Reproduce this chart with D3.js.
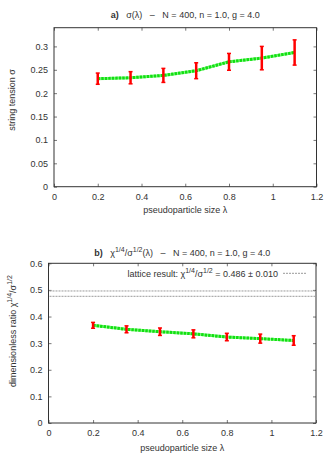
<!DOCTYPE html>
<html>
<head>
<meta charset="utf-8">
<script src="https://cdn.jsdelivr.net/npm/d3@7"></script>
<style>
    body { margin: 0; background: #fff; }
    svg { display: block; font-family: "Liberation Sans", Arial, sans-serif; }
    .axis text { fill: #333; font-size: 9px; }
    .lbl { fill: #333; font-size: 9px; }
</style>
</head>
<body>
<div id="chart"></div>
<script>
const lambdas = [0.2, 0.35, 0.5, 0.65, 0.8, 0.95, 1.1];
const sigma = [0.231, 0.233, 0.238, 0.248, 0.267, 0.275, 0.287];
const sigmaErr = [0.012, 0.013, 0.015, 0.017, 0.018, 0.025, 0.027];
const ratio = [0.367, 0.352, 0.343, 0.335, 0.323, 0.317, 0.310];
const ratioErr = [0.011, 0.013, 0.014, 0.015, 0.014, 0.017, 0.018];
const latticeValue = 0.486;
const latticeErr = 0.010;
const xTicks = [0, 0.2, 0.4, 0.6, 0.8, 1, 1.2];
const sigmaTicks = [0, 0.05, 0.1, 0.15, 0.2, 0.25, 0.3];
const ratioTicks = [0, 0.1, 0.2, 0.3, 0.4, 0.5, 0.6];

const svg = d3.select('#chart').append('svg')
    .attr('width', 335)
    .attr('height', 460);

// builds one framed panel, returns the scales and group
function panel(box, yMax, yTicks) {
    const x = d3.scaleLinear().domain([0, 1.2]).range([box.left, box.right]);
    const y = d3.scaleLinear().domain([0, yMax]).range([box.bottom, box.top]);
    const g = svg.append('g');
    const tick = 3;

    // gnuplot style: ticks inside on all four sides
    g.append('g').attr('class', 'axis')
        .attr('transform', `translate(0,${box.bottom})`)
        .call(d3.axisBottom(x).tickValues(xTicks).tickFormat(d3.format('~g')).tickSize(-tick).tickPadding(7))
        .call(a => a.select('.domain').remove());
    g.append('g').attr('class', 'axis')
        .attr('transform', `translate(0,${box.top})`)
        .call(d3.axisTop(x).tickValues(xTicks).tickSize(-tick).tickFormat(''))
        .call(a => a.select('.domain').remove());
    g.append('g').attr('class', 'axis')
        .attr('transform', `translate(${box.left},0)`)
        .call(d3.axisLeft(y).tickValues(yTicks).tickFormat(d3.format('~g')).tickSize(-tick).tickPadding(6))
        .call(a => a.select('.domain').remove());
    g.append('g').attr('class', 'axis')
        .attr('transform', `translate(${box.right},0)`)
        .call(d3.axisRight(y).tickValues(yTicks).tickSize(-tick).tickFormat(''))
        .call(a => a.select('.domain').remove());
    g.selectAll('.tick line').attr('stroke', '#777');

    g.append('rect')
        .attr('x', box.left).attr('y', box.top)
        .attr('width', box.right - box.left)
        .attr('height', box.bottom - box.top)
        .attr('fill', 'none')
        .attr('stroke', '#333')
        .attr('stroke-width', 1);

    return {x, y, g};
}

function drawSeries(p, values, errs) {
    const pts = lambdas.map((l, i) => ({l, v: values[i], e: errs[i]}));
    const line = d3.line().x(d => p.x(d.l)).y(d => p.y(d.v));
    p.g.append('path').datum(pts)
        .attr('d', line)
        .attr('fill', 'none')
        .attr('stroke', '#8ff78f')
        .attr('stroke-width', 3);
    p.g.append('path').datum(pts)
        .attr('d', line)
        .attr('fill', 'none')
        .attr('stroke', '#11e011')
        .attr('stroke-width', 3)
        .attr('stroke-dasharray', '2.5,1');

    const bars = p.g.selectAll('.err').data(pts).join('g').attr('class', 'err');
    bars.append('line')
        .attr('x1', d => p.x(d.l)).attr('x2', d => p.x(d.l))
        .attr('y1', d => p.y(d.v - d.e)).attr('y2', d => p.y(d.v + d.e))
        .attr('stroke', '#f00').attr('stroke-width', 2.5);
    [-1, 1].forEach(s => {
        bars.append('line')
            .attr('x1', d => p.x(d.l) - 2).attr('x2', d => p.x(d.l) + 2)
            .attr('y1', d => p.y(d.v + s * d.e)).attr('y2', d => p.y(d.v + s * d.e))
            .attr('stroke', '#f00').attr('stroke-width', 1.5);
    });
}

// superscript helper
function rich(sel, parts) {
    parts.forEach(([t, sup]) => {
        sel.append('tspan')
            .attr('baseline-shift', sup ? '55%' : null)
            .attr('font-size', sup ? '7px' : null)
            .text(t);
    });
    return sel;
}

// ---- panel a ----
const boxA = {left: 54, right: 316.5, top: 27.7, bottom: 186.7};
const pA = panel(boxA, 0.34, sigmaTicks);
drawSeries(pA, sigma, sigmaErr);

const tA = svg.append('text').attr('class', 'lbl')
    .attr('x', (boxA.left + boxA.right) / 2).attr('y', 18)
    .attr('text-anchor', 'middle').attr('xml:space', 'preserve');
tA.append('tspan').attr('font-weight', 'bold').text('a)');
tA.append('tspan').text('   σ(λ)   –   N = 400, n = 1.0, g = 4.0');

svg.append('text').attr('class', 'lbl')
    .attr('x', (boxA.left + boxA.right) / 2).attr('y', 213)
    .attr('text-anchor', 'middle').text('pseudoparticle size λ');
svg.append('text').attr('class', 'lbl')
    .attr('transform', 'translate(15,100) rotate(-90)')
    .attr('text-anchor', 'middle').text('string tension σ');

// ---- panel b ----
const boxB = {left: 48.5, right: 316, top: 263.3, bottom: 423};
const pB = panel(boxB, 0.6, ratioTicks);

[latticeValue + latticeErr, latticeValue - latticeErr].forEach(v => {
    pB.g.append('line')
        .attr('x1', boxB.left + 1).attr('x2', boxB.right - 1)
        .attr('y1', pB.y(v)).attr('y2', pB.y(v))
        .attr('stroke', '#999').attr('stroke-width', 1)
        .attr('stroke-dasharray', '2,1');
});
pB.g.append('line')
    .attr('x1', 283).attr('x2', 307)
    .attr('y1', 273.3).attr('y2', 273.3)
    .attr('stroke', '#999').attr('stroke-width', 1)
    .attr('stroke-dasharray', '2,1');
rich(svg.append('text').attr('class', 'lbl')
    .attr('x', 278).attr('y', 276.5).attr('text-anchor', 'end'),
    [['lattice result: χ'], ['1/4', true], ['/σ'], ['1/2', true], [' = 0.486 ± 0.010']]);

drawSeries(pB, ratio, ratioErr);

const tB = svg.append('text').attr('class', 'lbl')
    .attr('x', (boxB.left + boxB.right) / 2).attr('y', 256)
    .attr('text-anchor', 'middle').attr('xml:space', 'preserve');
tB.append('tspan').attr('font-weight', 'bold').text('b)');
rich(tB, [['   χ'], ['1/4', true], ['/σ'], ['1/2', true], ['(λ)   –   N = 400, n = 1.0, g = 4.0']]);

svg.append('text').attr('class', 'lbl')
    .attr('x', (boxB.left + boxB.right) / 2).attr('y', 451)
    .attr('text-anchor', 'middle').text('pseudoparticle size λ');
rich(svg.append('text').attr('class', 'lbl')
    .attr('transform', 'translate(16,331) rotate(-90)')
    .attr('text-anchor', 'middle'),
    [['dimensionless ratio χ'], ['1/4', true], ['/σ'], ['1/2', true]]);
</script>
</body>
</html>
